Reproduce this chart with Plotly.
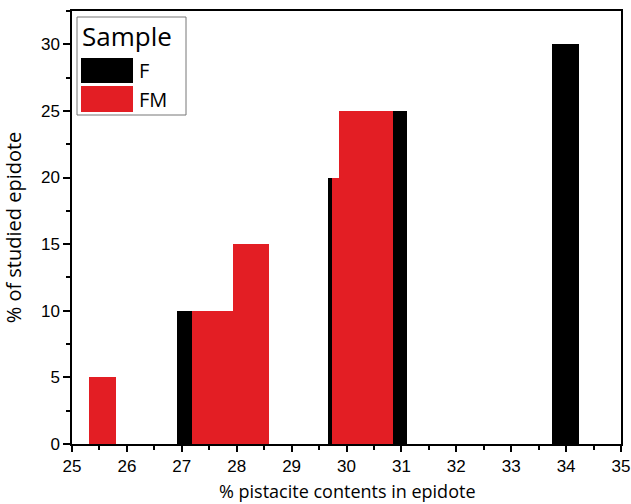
import plotly.graph_objects as go

# Data
f_x = [27.16, 29.92, 30.86, 33.99]
f_y = [10, 20, 25, 30]
fm_x = [25.56, 27.44, 27.69, 28.19, 28.33, 29.99, 30.11, 30.59]
fm_y = [5, 10, 10, 15, 15, 20, 25, 25]
x_ticks = list(range(25, 36))
y_ticks = [0, 5, 10, 15, 20, 25, 30]

BAR_W = 0.5
RED = "#E31E24"

fig = go.Figure()
fig.add_trace(go.Bar(x=f_x, y=f_y, width=BAR_W, name="F",
                     marker=dict(color="black", line=dict(width=0))))
fig.add_trace(go.Bar(x=fm_x, y=fm_y, width=BAR_W, name="FM",
                     marker=dict(color=RED, line=dict(width=0))))

tickfont = dict(family="Liberation Sans, Arial", size=17, color="black")
titlefont = dict(family="Open Sans", size=18, color="black")

B = 60
H_PLOT = 504 - 11 - B
AX_Y = 504 - B

fig.update_layout(
    width=631, height=504,
    margin=dict(l=72, r=10, t=11, b=B),
    barmode="overlay",
    bargap=0,
    showlegend=False,
    plot_bgcolor="white",
    paper_bgcolor="white",
    xaxis=dict(range=[25, 35], tickvals=x_ticks, ticktext=[str(v) for v in x_ticks],
               ticks="outside", ticklen=6, tickwidth=1.5, tickcolor="black",
               minor=dict(dtick=0.5, tick0=25, ticks="outside", ticklen=4, tickwidth=1.5, tickcolor="black"),
               showline=True, linecolor="black", linewidth=1.5, mirror=True,
               showgrid=False, zeroline=False, tickfont=tickfont, automargin=False,
               ticklabeloverflow="allow"),
    yaxis=dict(range=[0, 32.5], tickvals=y_ticks, ticktext=[str(v) for v in y_ticks],
               ticks="outside", ticklen=7, tickwidth=1.5, tickcolor="black",
               minor=dict(dtick=2.5, tick0=0, ticks="outside", ticklen=4, tickwidth=1.5, tickcolor="black"),
               showline=True, linecolor="black", linewidth=1.5, mirror=True,
               showgrid=False, zeroline=False, tickfont=tickfont, automargin=False,
               title=dict(text="% of studied epidote", font=dict(family="Open Sans", size=20, color="black"))),
)

# Custom legend and x-axis title (paper coordinates)
def px_x(p):
    return (p - 72) / 549.0

def px_y(p):
    return (AX_Y - p) / float(H_PLOT)

fig.add_annotation(xref="paper", yref="paper", x=0.5, y=px_y(504), xanchor="center", yanchor="bottom",
                   text="% pistacite contents in epidote", showarrow=False, font=titlefont,
                   borderpad=0)

fig.add_shape(type="rect", xref="paper", yref="paper",
              x0=px_x(77), x1=px_x(186), y0=px_y(115), y1=px_y(17),
              line=dict(color="#777777", width=1), fillcolor="white")
fig.add_annotation(xref="paper", yref="paper", x=px_x(81), y=px_y(36),
                   text="Sample", showarrow=False, xanchor="left", yanchor="middle",
                   font=dict(family="Open Sans", size=26, color="black"), borderpad=0)
for name, col, top, bot in [("F", "black", 58, 83), ("FM", RED, 86, 112)]:
    fig.add_shape(type="rect", xref="paper", yref="paper",
                  x0=px_x(81), x1=px_x(133), y0=px_y(bot), y1=px_y(top),
                  line=dict(width=0), fillcolor=col)
    fig.add_annotation(xref="paper", yref="paper", x=px_x(138), y=px_y((top + bot) / 2),
                       text=name, showarrow=False, xanchor="left", yanchor="middle",
                       font=dict(family="Open Sans", size=20, color="black"), borderpad=0)

fig.write_html("out.html")
